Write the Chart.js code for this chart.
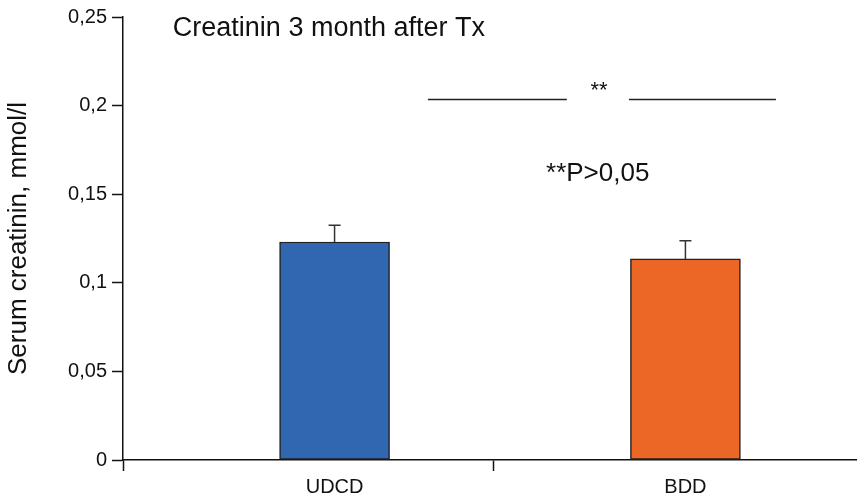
<!DOCTYPE html>
<html>
<head>
<meta charset="utf-8">
<script src="https://cdn.jsdelivr.net/npm/chart.js@4"></script>
<style>
  html, body { margin: 0; padding: 0; background: #fff; }
  #wrap { width: 857px; height: 497px; position: relative; }
</style>
</head>
<body>
<div id="wrap"><canvas id="myChart"></canvas></div>
<script>
// data
const categories = ['UDCD', 'BDD'];
const categoryPos = [1, 2];
const means = [0.123, 0.1135];
const errors = [0.0095, 0.0103];
const barColors = ['#3166B1', '#EC6726'];
const yTicks = [0, 0.05, 0.1, 0.15, 0.2, 0.25];

// x range / divider tick (in category units)
const xMin = 0.397, xMax = 2.489, xDivider = 1.454;

// annotations, in data units
const chartTitle = { text: 'Creatinin 3 month after Tx', x: 0.539, y: 0.2433 };
const bracketY = 0.204;
const bracketSegments = [[1.266, 1.662], [1.839, 2.258]];
const starsLabel = { text: '**', x: 1.754, y: 0.2085 };
const pLabel = { text: '**P>0,05', x: 1.75, y: 0.1614 };

const FONT = "'Liberation Sans', Arial, sans-serif";

const fmt = v => String(Math.round(v * 100) / 100).replace('.', ',');

const extras = {
    id: 'extras',
    afterDatasetsDraw(chart) {
        const ctx = chart.ctx;
        const xs = chart.scales.x, ys = chart.scales.y;
        const meta = chart.getDatasetMeta(0);
        ctx.save();
        // error bars
        ctx.strokeStyle = '#333';
        ctx.lineWidth = 1.5;
        meta.data.forEach((bar, i) => {
            const top = ys.getPixelForValue(means[i] + errors[i]);
            ctx.beginPath();
            ctx.moveTo(bar.x, bar.y);
            ctx.lineTo(bar.x, top);
            ctx.moveTo(bar.x - 6, top);
            ctx.lineTo(bar.x + 6, top);
            ctx.stroke();
        });
        // bracket
        ctx.strokeStyle = '#222';
        ctx.lineWidth = 1.4;
        const by = Math.round(ys.getPixelForValue(bracketY)) + 0.5;
        bracketSegments.forEach(s => {
            ctx.beginPath();
            ctx.moveTo(xs.getPixelForValue(s[0]), by);
            ctx.lineTo(xs.getPixelForValue(s[1]), by);
            ctx.stroke();
        });
        // texts
        ctx.fillStyle = '#111';
        ctx.textBaseline = 'middle';
        ctx.font = '27px ' + FONT;
        ctx.textAlign = 'left';
        ctx.fillText(chartTitle.text, xs.getPixelForValue(chartTitle.x), ys.getPixelForValue(chartTitle.y));
        ctx.font = '26px ' + FONT;
        ctx.textAlign = 'center';
        ctx.fillText(pLabel.text, xs.getPixelForValue(pLabel.x), ys.getPixelForValue(pLabel.y));
        ctx.font = '22px ' + FONT;
        ctx.fillText(starsLabel.text, xs.getPixelForValue(starsLabel.x), ys.getPixelForValue(starsLabel.y));
        ctx.restore();
    }
};

new Chart(document.getElementById('myChart'), {
    type: 'bar',
    data: {
        datasets: [{
            data: categoryPos.map((x, i) => ({ x: x, y: means[i] })),
            backgroundColor: barColors,
            borderColor: '#222',
            borderWidth: 1.5,
            borderSkipped: false,
            barThickness: 110
        }]
    },
    options: {
        responsive: true,
        maintainAspectRatio: false,
        animation: false,
        layout: { padding: { top: 14, right: 0, left: 0, bottom: 0 } },
        plugins: {
            legend: { display: false },
            tooltip: { enabled: false }
        },
        scales: {
            x: {
                type: 'linear',
                min: xMin,
                max: xMax,
                offset: false,
                afterBuildTicks(scale) {
                    scale.ticks = [xMin, categoryPos[0], xDivider, categoryPos[1]].map(v => ({ value: v }));
                },
                afterFit(scale) { scale.height = 37; },
                ticks: {
                    autoSkip: false,
                    maxRotation: 0,
                    padding: 4,
                    color: '#111',
                    font: { family: FONT, size: 20 },
                    callback: v => {
                        const i = categoryPos.indexOf(v);
                        return i >= 0 ? categories[i] : '';
                    }
                },
                grid: {
                    offset: false,
                    drawOnChartArea: false,
                    drawTicks: true,
                    tickLength: 11,
                    tickWidth: 1.5,
                    tickColor: c => (c.tick && categoryPos.includes(c.tick.value)) ? 'rgba(0,0,0,0)' : '#111'
                },
                border: { color: '#111', width: 1.5 }
            },
            y: {
                min: 0,
                max: 0.25,
                afterBuildTicks(scale) {
                    scale.ticks = yTicks.map(v => ({ value: v }));
                },
                afterFit(scale) { scale.width = 123; },
                title: {
                    display: true,
                    text: 'Serum creatinin, mmol/l',
                    color: '#111',
                    font: { family: FONT, size: 26 },
                    padding: { top: 3, bottom: 0 }
                },
                ticks: {
                    padding: 5,
                    color: '#111',
                    font: { family: FONT, size: 20 },
                    callback: v => fmt(v)
                },
                grid: {
                    drawOnChartArea: false,
                    drawTicks: true,
                    tickLength: 11,
                    tickWidth: 1.5,
                    tickColor: '#111'
                },
                border: { color: '#111', width: 1.5 }
            }
        }
    },
    plugins: [extras]
});
</script>
</body>
</html>
